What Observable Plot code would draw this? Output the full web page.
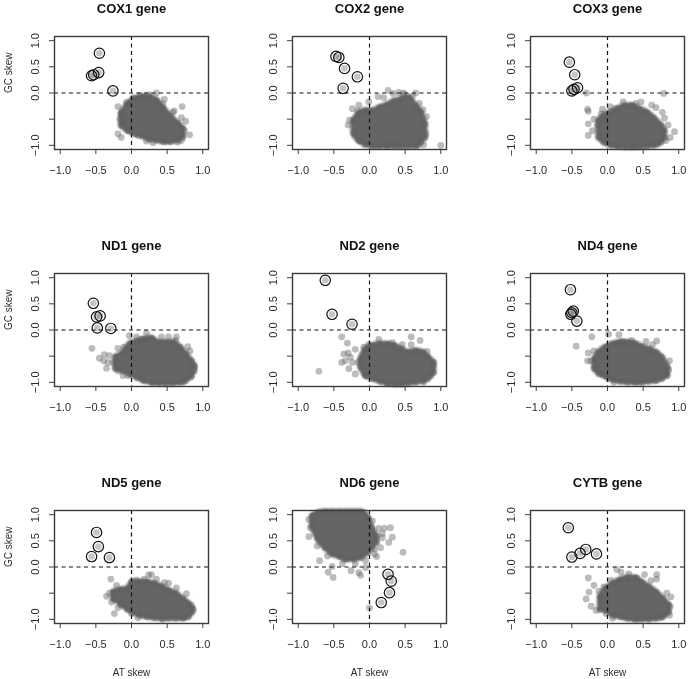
<!DOCTYPE html>
<html>
<head>
<meta charset="utf-8">
<style>html,body{margin:0;padding:0;background:#fff}svg{display:block;filter:blur(0.5px)}</style>
<script src="https://cdn.jsdelivr.net/npm/d3@7"></script>
<script src="https://cdn.jsdelivr.net/npm/@observablehq/plot@0.6"></script>
</head>
<body>
<div id="chart"></div>
<script>
const geneTitles = ["COX1 gene","COX2 gene","COX3 gene","ND1 gene","ND2 gene","ND4 gene","ND5 gene","ND6 gene","CYTB gene"];
const axisTicks = [-1,-0.5,0,0.5,1];

// Labelled sequences (circled points): [AT skew, GC skew]
const cox1Marked = [[-.45,.76],[-.46,.39],[-.53,.35],[-.56,.33],[-.26,.04]];
const cox2Marked = [[-.47,.70],[-.43,.68],[-.35,.47],[-.17,.31],[-.37,.09]];
const cox3Marked = [[-.535,.59],[-.46,.35],[-.42,.10],[-.47,.07],[-.50,.04]];
const nd1Marked  = [[-.535,.51],[-.49,.25],[-.44,.27],[-.48,.04],[-.29,.03]];
const nd2Marked  = [[-.62,.95],[-.525,.30],[-.245,.11]];
const nd4Marked  = [[-.52,.77],[-.48,.36],[-.515,.30],[-.50,.33],[-.43,.17]];
const nd5Marked  = [[-.49,.66],[-.465,.39],[-.56,.20],[-.31,.18]];
const nd6Marked  = [[.26,-.14],[.305,-.27],[.28,-.49],[.165,-.68]];
const cytbMarked = [[-.55,.75],[-.50,.19],[-.385,.26],[-.305,.335],[-.155,.25]];

// Dense part of each cloud, read as [AT skew, upper GC skew, lower GC skew]
const cox1Core = [[-.14,-.40,-.62],[-.05,-.22,-.72],[.05,-.12,-.78],[.15,-.08,-.82],[.25,-.08,-.88],[.35,-.14,-.90],[.45,-.30,-.93],[.55,-.45,-.93],[.65,-.58,-.90],[.72,-.68,-.82]];
const cox2Core = [[-.22,-.53,-.78],[-.15,-.40,-.91],[-.05,-.34,-.97],[.05,-.34,-1.02],[.15,-.28,-1.02],[.25,-.23,-1.02],[.35,-.16,-1.02],[.45,-.12,-1.02],[.55,-.09,-1.02],[.65,-.25,-1.02],[.72,-.37,-.94],[.78,-.59,-.85]];
const cox3Core = [[-.12,-.53,-.85],[-.05,-.44,-.94],[.05,-.37,-1.0],[.15,-.31,-1.02],[.25,-.25,-1.03],[.35,-.25,-1.03],[.45,-.31,-1.03],[.55,-.37,-1.02],[.65,-.48,-1.0],[.75,-.62,-.94],[.80,-.72,-.85]];
const nd1Core  = [[-.22,-.52,-.74],[-.12,-.45,-.78],[-.02,-.27,-.84],[.08,-.22,-.91],[.18,-.18,-.97],[.28,-.16,-1.0],[.38,-.24,-1.02],[.48,-.24,-1.02],[.58,-.24,-1.02],[.68,-.33,-1.0],[.76,-.46,-.97],[.84,-.59,-.87],[.88,-.68,-.78]];
const nd2Core  = [[-.12,-.56,-.71],[-.05,-.37,-.87],[.05,-.30,-.93],[.15,-.27,-.98],[.25,-.27,-1.02],[.35,-.30,-1.03],[.45,-.37,-1.03],[.55,-.43,-1.02],[.65,-.40,-1.0],[.75,-.43,-.97],[.82,-.52,-.93],[.90,-.62,-.81]];
const nd4Core  = [[-.18,-.56,-.74],[-.12,-.43,-.83],[-.02,-.33,-.89],[.08,-.27,-.95],[.18,-.24,-.98],[.28,-.24,-1.0],[.38,-.26,-1.0],[.48,-.32,-1.0],[.58,-.37,-.98],[.68,-.43,-.97],[.76,-.52,-.93],[.84,-.71,-.87]];
const nd5Core  = [[-.25,-.48,-.61],[-.15,-.44,-.70],[-.05,-.42,-.81],[.02,-.29,-.86],[.12,-.29,-.92],[.22,-.29,-.95],[.32,-.32,-.97],[.42,-.38,-.98],[.52,-.45,-.98],[.62,-.51,-.98],[.72,-.61,-.98],[.80,-.70,-.95],[.85,-.79,-.86]];
const nd6Core  = [[-.80,.97,.78],[-.72,1.03,.53],[-.62,1.05,.37],[-.52,1.05,.25],[-.42,1.05,.20],[-.32,1.05,.15],[-.22,1.05,.15],[-.12,1.05,.18],[-.02,.94,.28],[.03,.75,.37],[.10,.59,.47]];
const cytbCore = [[-.10,-.57,-.81],[-.02,-.42,-.83],[.08,-.32,-.92],[.18,-.25,-.95],[.28,-.21,-.98],[.38,-.21,-1.0],[.48,-.29,-1.0],[.58,-.38,-1.0],[.68,-.48,-.98],[.78,-.61,-.95],[.86,-.73,-.86]];

// Separate points at the rim of each cloud: [AT skew, GC skew]
const cox1Rim = [[-.19,-.26],[-.145,-.37],[-.16,-.50],[-.11,-.56],[-.19,-.78],[-.145,-.85],[-.07,-.18],[.02,-.09],[.12,-.04],[.35,0],[.46,-.12],[.71,-.26],[.60,-.34],[.70,-.47],[.76,-.54],[.745,-.72],[.815,-.80],[.70,-.91],[.65,-.94],[.49,-.92],[.30,-.95],[.21,-.92],[.09,-.81],[-.03,-.66],[.25,-.03],[.18,-.07],[.44,-.21],[.58,-.37],[.72,-.85]];
const cox2Rim = [[.26,.05],[.33,-.01],[.41,.01],[.48,0],[.65,0],[1.0,-1.0],[.12,-.07],[.20,-.09],[-.01,-.17],[-.15,-.23],[-.24,-.30],[-.17,-.34],[-.28,-.52],[-.30,-.61],[-.13,-.92],[-.07,-.99],[.70,-.20],[.75,-.32],[.80,-.45],[.79,-.78],[.76,-.99],[.69,-.99],[.25,-1.0],[.11,-1.0],[.39,-1.0],[.48,-.03],[.60,-.06]];
const cox3Rim = [[-.295,0],[.79,-.01],[-.28,-.31],[-.27,-.35],[-.07,-.31],[.04,-.26],[.12,-.29],[.22,-.17],[.33,-.23],[.47,-.17],[.40,-.20],[.62,-.23],[.68,-.28],[.77,-.37],[.80,-.48],[.85,-.61],[.94,-.74],[.88,-.85],[-.27,-.81],[-.21,-.72],[-.27,-.59],[-.19,-.50],[-.14,-.62],[-.09,-.40],[.14,-1.02],[.70,-.98],[.37,-1.02],[.82,-.91]];
const nd1Rim  = [[-.555,-.35],[.21,-.06],[-.03,-.11],[.07,-.13],[.14,-.18],[.42,-.13],[.52,-.13],[.63,-.13],[.62,-.20],[.79,-.32],[.82,-.40],[.885,-.71],[.84,-.90],[.72,-1.0],[-.45,-.54],[-.38,-.47],[-.31,-.49],[-.39,-.59],[-.33,-.62],[-.35,-.73],[-.26,-.62],[-.19,-.78],[-.12,-.87],[-.05,-.87],[-.19,-.35],[-.11,-.33],[.30,-1.0],[.16,-.95]];
const nd2Rim  = [[-.71,-.79],[-.39,-.13],[-.31,-.25],[-.20,-.37],[-.08,-.33],[-.01,-.28],[.13,-.18],[.585,-.13],[.71,-.20],[.46,-.28],[.585,-.28],[-.36,-.46],[-.30,-.44],[-.39,-.62],[-.34,-.59],[-.27,-.52],[-.29,-.74],[-.20,-.84],[-.16,-.62],[-.24,-.62],[-.06,-.87],[.81,-.41],[.90,-.68],[.86,-.87],[.25,-1.02],[.39,-1.03],[.32,-.24],[.76,-1.0]];
const nd4Rim  = [[-.22,-.13],[-.44,-.31],[.015,-.08],[.16,-.09],[.34,-.20],[.21,-.22],[.54,-.22],[.69,-.21],[.63,-.28],[.87,-.59],[.86,-.76],[.82,-.84],[-.27,-.44],[-.28,-.59],[-.19,-.40],[-.07,-.85],[-.16,-.71],[.09,-1.0],[.02,-.93],[.14,-.26],[.42,-1.0],[-.235,-.59]];
const nd5Rim  = [[-.29,-.23],[-.21,-.35],[.24,-.15],[.28,-.145],[.35,-.23],[.07,-.25],[.52,-.31],[.63,-.40],[.77,-.51],[-.35,-.56],[-.31,-.50],[-.28,-.67],[-.24,-.89],[-.19,-.78],[-.145,-.73],[-.07,-.70],[0,-.89],[.09,-.97],[.44,-1.0],[.84,-.73],[.87,-.81],[.74,-.965],[.46,-.30],[0,-.28],[.18,-.23]];
const nd6Rim  = [[.47,.28],[-.70,.12],[-.85,.58],[-.83,.75],[-.85,.91],[-.59,.21],[-.525,.01],[-.58,-.10],[-.51,-.20],[-.38,.06],[-.26,-.07],[-.20,.06],[-.15,-.11],[-.125,-.16],[-.055,.12],[-.055,-.01],[0,-.78],[.10,.20],[.13,.74],[.21,.74],[.295,.75],[.32,.57],[.27,.47],[.18,.56],[.155,.37],[.07,.34],[-.36,.15],[-.735,.40],[.04,.88],[.07,.25],[.18,.64]];
const cytbRim = [[-.27,-.21],[-.19,-.35],[-.26,-.48],[-.30,-.61],[-.23,-.75],[-.16,-.83],[-.09,-.61],[-.12,-.46],[-.05,-.38],[.04,-.25],[.13,-.05],[.19,-.10],[.30,-.13],[.41,-.21],[.52,-.145],[.69,-.145],[.69,-.23],[.61,-.26],[.83,-.50],[.89,-.57],[.88,-.76],[.87,-.92],[.07,-.98],[.23,-.95],[.42,-1.0],[-.02,-.89],[.75,-.965]];

const allMarked = [cox1Marked,cox2Marked,cox3Marked,nd1Marked,nd2Marked,nd4Marked,nd5Marked,nd6Marked,cytbMarked];
const allCore = [cox1Core,cox2Core,cox3Core,nd1Core,nd2Core,nd4Core,nd5Core,nd6Core,cytbCore];
const allRim = [cox1Rim,cox2Rim,cox3Rim,nd1Rim,nd2Rim,nd4Rim,nd5Rim,nd6Rim,cytbRim];

const place = i => ({col: i % 3, row: Math.floor(i / 3)});
const points = sets => sets.flatMap((set, i) => set.map(([x, y]) => ({x, y, ...place(i)})));
const bands = sets => sets.flatMap((set, i) => set.map(([x, y1, y2]) => ({x, y1, y2, ...place(i)})));
const panels = geneTitles.map((title, i) => ({title, ...place(i)}));

const marked = points(allMarked);
const rim = points(allRim);
const core = bands(allCore);
const coreEdge = core.flatMap(d => [{...d, y: d.y1}, {...d, y: d.y2}]);
const dotFill = "rgb(95,95,95)";
const font = "'Liberation Sans', Helvetica, Arial, sans-serif";

const chart = Plot.plot({
  width: 689, height: 679,
  marginLeft: 54, marginRight: 5, marginTop: 35, marginBottom: 56,
  style: {fontFamily: font, background: "#fff"},
  x: {domain: [-1.08, 1.08], axis: null},
  y: {domain: [-1.08, 1.08], axis: null},
  fx: {axis: null, paddingInner: 0.353, paddingOuter: 0},
  fy: {axis: null, paddingInner: 0.524, paddingOuter: 0},
  marks: [
    Plot.areaY(core, {x: "x", y1: "y1", y2: "y2", fx: "col", fy: "row", curve: "monotone-x", fill: "#656565", stroke: "#656565", strokeWidth: 6, strokeLinejoin: "round", imageFilter: "blur(1px)"}),
    Plot.dot(coreEdge, {x: "x", y: "y", fx: "col", fy: "row", r: 3.4, fill: dotFill, fillOpacity: 0.42}),
    Plot.dot(rim, {x: "x", y: "y", fx: "col", fy: "row", r: 3.4, fill: dotFill, fillOpacity: 0.42}),
    Plot.dot(marked, {x: "x", y: "y", fx: "col", fy: "row", r: 3.3, fill: dotFill, fillOpacity: 0.36}),
    Plot.dot(marked, {x: "x", y: "y", fx: "col", fy: "row", r: 5.2, stroke: "#111", strokeWidth: 1.2}),
    Plot.ruleY([0], {stroke: "#111", strokeWidth: 1.2, strokeDasharray: "4,3.5"}),
    Plot.ruleX([0], {stroke: "#111", strokeWidth: 1.2, strokeDasharray: "4,3.5"}),
    Plot.frame({stroke: "#3c3c3c", strokeWidth: 1.4}),
    Plot.axisX({anchor: "bottom", ticks: axisTicks, tickSize: 5, tickPadding: 12, fontSize: 11, label: null, facetAnchor: null, stroke: "#3c3c3c", fill: "#2a2a2a", tickFormat: d => d3.format(".1f")(d).replace("-", "\u2212")}),
    Plot.axisY({anchor: "left", ticks: axisTicks, tickSize: 5, tickPadding: 11, tickRotate: -90, fontSize: 11, label: null, facetAnchor: null, stroke: "#3c3c3c", fill: "#2a2a2a", tickFormat: d => d === -0.5 ? "" : d3.format(".1f")(d).replace("-", "\u2212")}),
    Plot.text(panels, {fx: "col", fy: "row", text: "title", frameAnchor: "top", dy: -33, fontSize: 13, fontWeight: "bold", fill: "#111"}),
    Plot.text(panels.filter(d => d.col === 0), {fx: "col", fy: "row", text: () => "GC skew", frameAnchor: "left", dx: -46, rotate: -90, fontSize: 10, fill: "#2a2a2a"}),
    Plot.text(panels.filter(d => d.row === 2), {fx: "col", fy: "row", text: () => "AT skew", frameAnchor: "bottom", dy: 52, fontSize: 10, fill: "#2a2a2a"})
  ]
});
document.getElementById("chart").append(chart);
</script>
</body>
</html>
